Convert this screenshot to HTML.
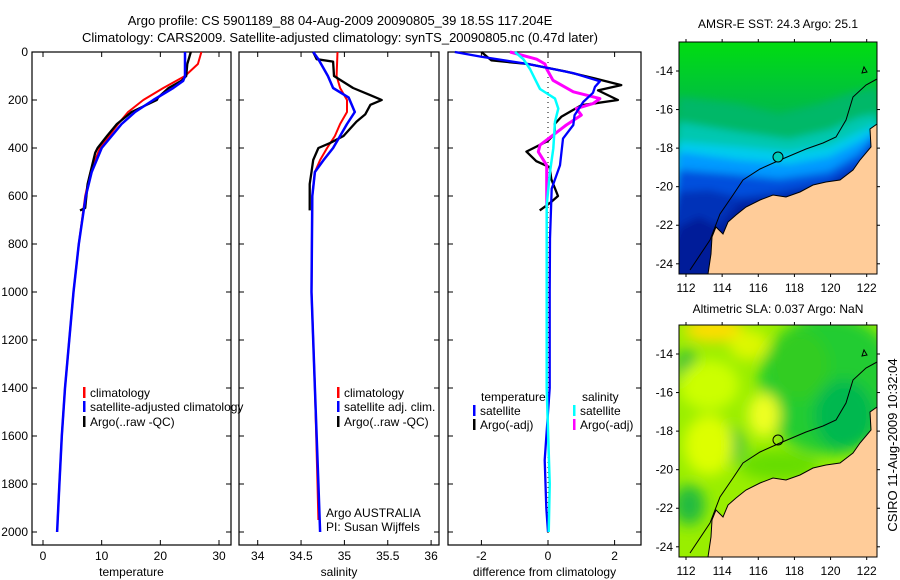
<!DOCTYPE html>
<html><head><meta charset="utf-8"><style>
body{margin:0;background:#fff;}
svg{display:block;font-family:"Liberation Sans",sans-serif;}
text{fill:#000;}
</style></head><body>
<svg id="fig" width="900" height="580" viewBox="0 0 900 580" xmlns="http://www.w3.org/2000/svg">
<text x="340" y="25" font-size="13" text-anchor="middle">Argo profile: CS 5901189_88 04-Aug-2009 20090805_39 18.5S 117.204E</text>
<text x="340" y="42" font-size="13" text-anchor="middle">Climatology: CARS2009. Satellite-adjusted climatology: synTS_20090805.nc (0.47d later)</text>
<g id="panels"></g>
<g id="maps"></g>
<text transform="translate(897,445) rotate(-90)" font-size="13" text-anchor="middle">CSIRO 11-Aug-2009 10:32:04</text>
</svg>
<script>
// ---------- data ----------
const depthTicks = [0,200,400,600,800,1000,1200,1400,1600,1800,2000];
const tempTicks = [0,10,20,30];
const salTicks = [34,34.5,35,35.5,36];
const diffTicks = [-2,0,2];

const tClimDepth = [0,50,100,150,200,250,300,400,500,600,800,1000,1400,1600,1800,1950];
const tClimVal   = [27.0,26.4,24.2,20.5,17.1,14.5,12.8,9.7,8.1,7.2,6.1,5.2,3.75,3.2,2.8,2.5];
const tSatDepth  = [0,100,120,150,200,250,300,400,500,600,800,1000,1400,1600,1800,2000];
const tSatVal    = [24.2,24.2,23.9,22.2,18.8,15.7,13.4,10.0,8.3,7.3,6.1,5.2,3.75,3.2,2.8,2.4];
const tArgoDepth = [0,50,100,120,150,190,200,250,300,350,400,420,480,550,650,660];
const tArgoVal   = [25.2,24.6,24.4,23.6,21.4,19.6,19.4,15.1,12.6,10.9,9.3,8.9,8.3,7.6,7.2,6.3];

const sClimDepth = [0,100,150,200,250,300,350,400,450,500,600,1000,1400,1800,1950];
const sClimVal   = [34.92,34.91,34.95,35.03,35.03,34.95,34.89,34.80,34.72,34.66,34.63,34.62,34.66,34.69,34.70];
const sSatDepth  = [0,30,100,150,190,250,300,350,400,450,500,600,1000,1400,1800,2000];
const sSatVal    = [34.64,34.70,34.81,34.87,35.05,35.12,35.03,34.95,34.87,34.76,34.66,34.63,34.62,34.66,34.70,34.72];
const sArgoDepth = [0,30,40,100,150,180,200,220,260,290,350,380,400,450,500,550,660];
const sArgoVal   = [34.64,34.68,34.87,34.88,35.10,35.30,35.43,35.30,35.24,35.14,34.99,34.83,34.70,34.64,34.62,34.60,34.60];

const dTSatDepth = [0,20,50,88,122,145,170,208,263,304,361,472,569,777,1000,1400,1700,1900,2000];
const dTSatVal   = [-2.8,-2.0,-0.6,0.76,1.56,1.41,1.35,1.06,0.8,0.76,0.45,0.36,0.11,0.06,0.05,0.05,-0.1,-0.05,0.0];
const dTArgoDepth = [0,35,50,80,110,138,160,200,222,270,300,340,370,415,455,480,530,600,630,660];
const dTArgoVal   = [-2.0,-1.7,-0.6,0.5,1.4,2.2,1.5,2.1,1.0,0.4,0.2,0.2,0.0,-0.65,-0.35,0.05,0.1,0.3,0.05,-0.25];
const dSSatDepth = [0,30,71,113,154,194,236,291,402,499,638,1000,1400,1800,2000];
const dSSatVal   = [-0.99,-0.74,-0.54,-0.39,-0.24,0.21,0.31,0.21,0.16,0.06,-0.04,-0.04,-0.04,0.05,0.02];
const dSArgoDepth = [0,30,50,71,118,166,194,215,236,263,304,388,416,472,530,644];
const dSArgoVal   = [-1.14,-0.34,-0.09,-0.04,0.15,0.76,1.56,1.35,0.85,1.0,0.55,-0.24,-0.29,-0.04,-0.04,-0.04];

const lonTicks = [112,114,116,118,120,122];
const latTicks = [-14,-16,-18,-20,-22,-24];

// ---------- helpers ----------
const NS='http://www.w3.org/2000/svg';
function el(tag, attrs, parent){const e=document.createElementNS(NS,tag);for(const k in attrs)e.setAttribute(k,attrs[k]);parent.appendChild(e);return e;}
const TOP=52, BOT=545;
function yD(d){return TOP + d*0.24;}
const panelsG=document.getElementById('panels');

function panel(name,x0,x1,xFn,ticks,xlabel,fmt){
  const g=el('g',{},panelsG);
  
  
  const r=el('rect',{x:x0,y:TOP,width:x1-x0,height:BOT-TOP,fill:'none',stroke:'#000','stroke-width':1.2},g);
  
  
  depthTicks.forEach(d=>{
    el('line',{x1:x0,x2:x0+5,y1:yD(d),y2:yD(d),stroke:'#000'},g);
    el('line',{x1:x1-5,x2:x1,y1:yD(d),y2:yD(d),stroke:'#000'},g);
  });
  ticks.forEach(t=>{
    const x=xFn(t);
    el('line',{x1:x,x2:x,y1:BOT,y2:BOT-5,stroke:'#000'},g);
    el('line',{x1:x,x2:x,y1:TOP,y2:TOP+5,stroke:'#000'},g);
    const tx=el('text',{x:x,y:BOT+15,'font-size':12,'text-anchor':'middle'},g);
    tx.textContent=fmt?fmt(t):String(t);
    
    
  });
  const xl=el('text',{x:(x0+x1)/2,y:576,'font-size':12,'text-anchor':'middle'},g);
  xl.textContent=xlabel;
  
  
  return g;
}
function series(g,name,depths,vals,xFn,color,w){
  const pts=depths.map((d,i)=>xFn(vals[i]).toFixed(1)+','+yD(d).toFixed(1)).join(' ');
  const p=el('polyline',{points:pts,fill:'none',stroke:color,'stroke-width':w,'stroke-linejoin':'round'},g);
  
  
}
function legendRow(g,name,x,y,color,label){
  el('rect',{x:x,y:y-10,width:2.5,height:11,fill:color},g);
  const t=el('text',{x:x+7,y:y,'font-size':12},g);
  t.textContent=label;
  
  
}

// Temperature panel
const xT=t=>43+t*5.867;
const g1=panel('temperature-panel',32,231,xT,tempTicks,'temperature');
depthTicks.forEach(d=>{
  const t=el('text',{x:28,y:yD(d)+4,'font-size':12,'text-anchor':'end'},g1);
  t.textContent=String(d);
  
  
});
series(g1,'temp-climatology-line',tClimDepth,tClimVal,xT,'#ff0000',2);
series(g1,'temp-argo-line',tArgoDepth,tArgoVal,xT,'#000',2.3);
series(g1,'temp-satellite-line',tSatDepth,tSatVal,xT,'#0000ff',2.5);
legendRow(g1,'legend-climatology',83,397,'#ff0000','climatology');
legendRow(g1,'legend-satellite-adjusted',83,411,'#0000ff','satellite-adjusted climatology');
legendRow(g1,'legend-argo-raw',83,426,'#000','Argo(..raw -QC)');

// Salinity panel
const xS=s=>257.7+(s-34)*86.7;
const g2=panel('salinity-panel',239,439,xS,salTicks,'salinity');
series(g2,'sal-climatology-line',sClimDepth,sClimVal,xS,'#ff0000',2);
series(g2,'sal-argo-line',sArgoDepth,sArgoVal,xS,'#000',2.3);
series(g2,'sal-satellite-line',sSatDepth,sSatVal,xS,'#0000ff',2.5);
legendRow(g2,'legend-sal-climatology',337,397,'#ff0000','climatology');
legendRow(g2,'legend-sal-satellite',337,411,'#0000ff','satellite adj. clim.');
legendRow(g2,'legend-sal-argo',337,426,'#000','Argo(..raw -QC)');
const a1=el('text',{x:326,y:517,'font-size':12},g2);a1.textContent='Argo AUSTRALIA';


const a2=el('text',{x:326,y:531,'font-size':12},g2);a2.textContent='PI: Susan Wijffels';



// Difference panel
const xDf=v=>548+v*33.3;
const g3=panel('difference-panel',448,641,xDf,diffTicks,'difference from climatology');
el('line',{x1:xDf(0),x2:xDf(0),y1:TOP,y2:BOT-10,stroke:'#000','stroke-dasharray':'1,4'},g3);
series(g3,'diff-temp-argo-line',dTArgoDepth,dTArgoVal,xDf,'#000',2.3);
series(g3,'diff-sal-argo-line',dSArgoDepth,dSArgoVal,xDf,'#ff00ff',3);
series(g3,'diff-temp-satellite-line',dTSatDepth,dTSatVal,xDf,'#0000ff',2.3);
series(g3,'diff-sal-satellite-line',dSSatDepth,dSSatVal,xDf,'#00ffff',2.5);
const lt=el('text',{x:481,y:401,'font-size':12},g3);lt.textContent='temperature';


const ls=el('text',{x:582,y:401,'font-size':12},g3);ls.textContent='salinity';


legendRow(g3,'legend-temp-satellite',473,415,'#0000ff','satellite');
legendRow(g3,'legend-temp-argo',473,429,'#000','Argo(-adj)');
legendRow(g3,'legend-sal-satellite-diff',573,415,'#00ffff','satellite');
legendRow(g3,'legend-sal-argo-diff',573,429,'#ff00ff','Argo(-adj)');

// ---------- maps ----------
const mapsG=document.getElementById('maps');
const coast=[[198,82],[191,87],[192,105],[181,118],[174,128],[161,138],[147,140],[134,143],[121,150],[107,155],[94,153],[81,158],[67,165],[57,173],[49,180],[44,192],[37,185],[33,195],[32,212],[29,232]];
const bathy=[[198,37],[187,43],[174,55],[167,78],[157,95],[144,101],[127,107],[101,118],[81,127],[64,138],[54,153],[41,172],[31,198],[11,228]];
const ptsStr=a=>a.map(p=>p.join(',')).join(' ');
const defs=el('defs',{},document.getElementById('fig'));
const f=el('filter',{id:'blur',x:'-20%',y:'-20%',width:'140%',height:'140%'},defs);
el('feGaussianBlur',{stdDeviation:7},f);
const f2=el('filter',{id:'blur2',x:'-20%',y:'-20%',width:'140%',height:'140%'},defs);
el('feGaussianBlur',{stdDeviation:4},f2);
const lg=el('linearGradient',{id:'sstTop',x1:0,y1:0,x2:0,y2:1},defs);
el('stop',{offset:'0','stop-color':'#00dd10'},lg);
el('stop',{offset:'0.25','stop-color':'#00c040'},lg);
el('stop',{offset:'0.45','stop-color':'#00b060'},lg);
['c1','c2'].forEach(id=>{const c=el('clipPath',{id:id},defs);el('rect',{x:0,y:0,width:198,height:232},c);});

function map(name,x0,y0,title,kind,ty){
  const g=el('g',{transform:`translate(${x0},${y0})`},mapsG);
  
  
  const inner=el('g',{'clip-path':`url(#${kind==='sst'?'c1':'c2'})`},g);
  if(kind==='sst'){
    el('rect',{x:0,y:0,width:198,height:232,fill:'url(#sstTop)'},inner);
    const bg=el('g',{filter:'url(#blur2)'},inner);
    const bands=[
      ['#00b868',[[0,55],[60,62],[100,72],[140,62],[175,50],[198,45]]],
      ['#00c8b0',[[0,80],[60,90],[110,97],[150,88],[180,75],[198,72]]],
      ['#00ccee',[[0,100],[60,105],[110,110],[150,104],[180,90],[198,82]]],
      ['#0099ff',[[0,110],[60,118],[110,122],[150,115],[180,100],[198,88]]],
      ['#0050dd',[[0,128],[50,132],[100,137],[150,130],[180,112],[198,92]]],
      ['#0030b8',[[0,150],[30,148],[60,155],[100,150],[150,140],[185,120],[198,95]]],
      ['#001a99',[[0,185],[20,175],[40,185],[60,162],[100,156],[150,143],[185,125],[198,100]]]
    ];
    bands.forEach(b=>el('polygon',{points:ptsStr(b[1].concat([[220,250],[-20,250]])),fill:b[0]},bg));
  } else {
    el('rect',{x:0,y:0,width:198,height:232,fill:'#99ee00'},inner);
    const bl=el('g',{filter:'url(#blur)'},inner);
    [[150,60,70,70,'#22cc30'],[165,90,30,35,'#00b850'],[120,40,30,35,'#33cc22'],[45,120,20,20,'#00b850'],[8,45,12,20,'#22bb40'],[10,180,16,20,'#22bb40'],
     [30,60,30,25,'#ccff00'],[30,120,25,30,'#ddff00'],[85,90,16,22,'#eeff22'],[35,5,30,12,'#ffdd00'],[70,20,20,15,'#ddf800'],[100,140,40,15,'#66dd00']]
     .forEach(e=>el('ellipse',{cx:e[0],cy:e[1],rx:e[2],ry:e[3],fill:e[4]},bl));
  }
  el('polygon',{points:ptsStr(coast.concat([[198,232]])),fill:'#ffcc99',stroke:'#000','stroke-width':1},inner);
  el('polyline',{points:ptsStr(bathy),fill:'none',stroke:'#000','stroke-width':1},inner);
  el('path',{d:'M183,31 l2,-6 l3,5 z',fill:'none',stroke:'#000'},inner);
  const circ=el('circle',{cx:99,cy:115,r:5,fill:kind==='sst'?'#00ccbb':'none',stroke:'#000','stroke-width':1},g);
  
  
  el('rect',{x:0,y:0,width:198,height:232,fill:'none',stroke:'#000','stroke-width':1},g);
  lonTicks.forEach(l=>{
    const x=7+(l-112)*18.07;
    el('line',{x1:x,x2:x,y1:0,y2:-3,stroke:'#000'},g);
    el('line',{x1:x,x2:x,y1:232,y2:235,stroke:'#000'},g);
    const t=el('text',{x:x,y:250,'font-size':12,'text-anchor':'middle'},g);t.textContent=String(l);
    
    
  });
  latTicks.forEach(l=>{
    const y=29+(-14-l)*19.28;
    el('line',{x1:0,x2:-3,y1:y,y2:y,stroke:'#000'},g);
    el('line',{x1:198,x2:201,y1:y,y2:y,stroke:'#000'},g);
    const t=el('text',{x:-6,y:y+4,'font-size':12,'text-anchor':'end'},g);t.textContent=String(l);
    
    
  });
  const tt=el('text',{x:99,y:ty,'font-size':12,'text-anchor':'middle'},g);tt.textContent=title;
  
  
}
map('sst-map',679,42,'AMSR-E SST: 24.3  Argo: 25.1','sst',-14);
map('sla-map',679,325,'Altimetric SLA: 0.037  Argo: NaN','sla',-12);
</script>
</body></html>
